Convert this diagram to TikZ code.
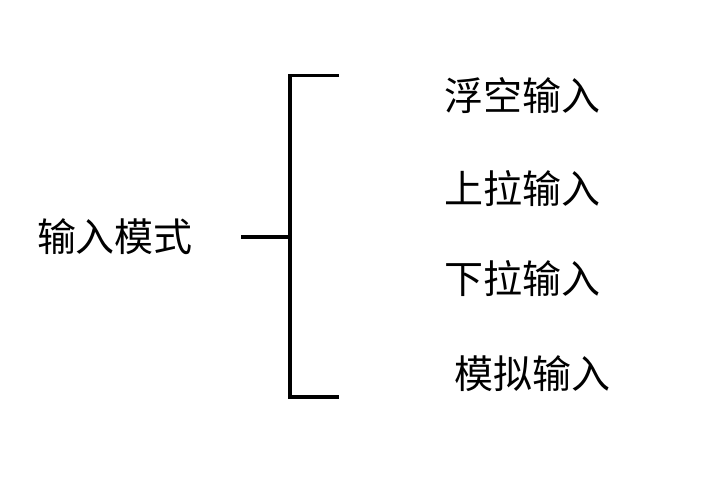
\documentclass[tikz,border=0pt]{standalone}
\usepackage{fontspec}
\setmainfont{Noto Sans CJK SC}
\tikzset{mode/.style={inner sep=0pt,font=\fontsize{39}{47}\selectfont}}
\begin{document}
\begin{tikzpicture}[x=1pt,y=-1pt,line width=3.3pt]
                \useasboundingbox(0,0)rectangle(726,480);
                \coordinate(S)at(241,237);
                \coordinate(M)at(290,237);
                \coordinate(T)at(290,75.5);
                \coordinate(B)at(290,397);
                \coordinate(T1)at(339,75.5);
                \coordinate(B1)at(339,397);
                \node[mode](root)at(115,237){输入模式};
                \node[mode](float)at(522,96){浮空输入};
                \node[mode](up)at(522,189){上拉输入};
                \node[mode](down)at(522,279){下拉输入};
                \node[mode](ana)at(532,374){模拟输入};
                \draw(S)--(M);
                \draw(T1)--(T)--(B)--(B1);
            \end{tikzpicture}
\end{document}
